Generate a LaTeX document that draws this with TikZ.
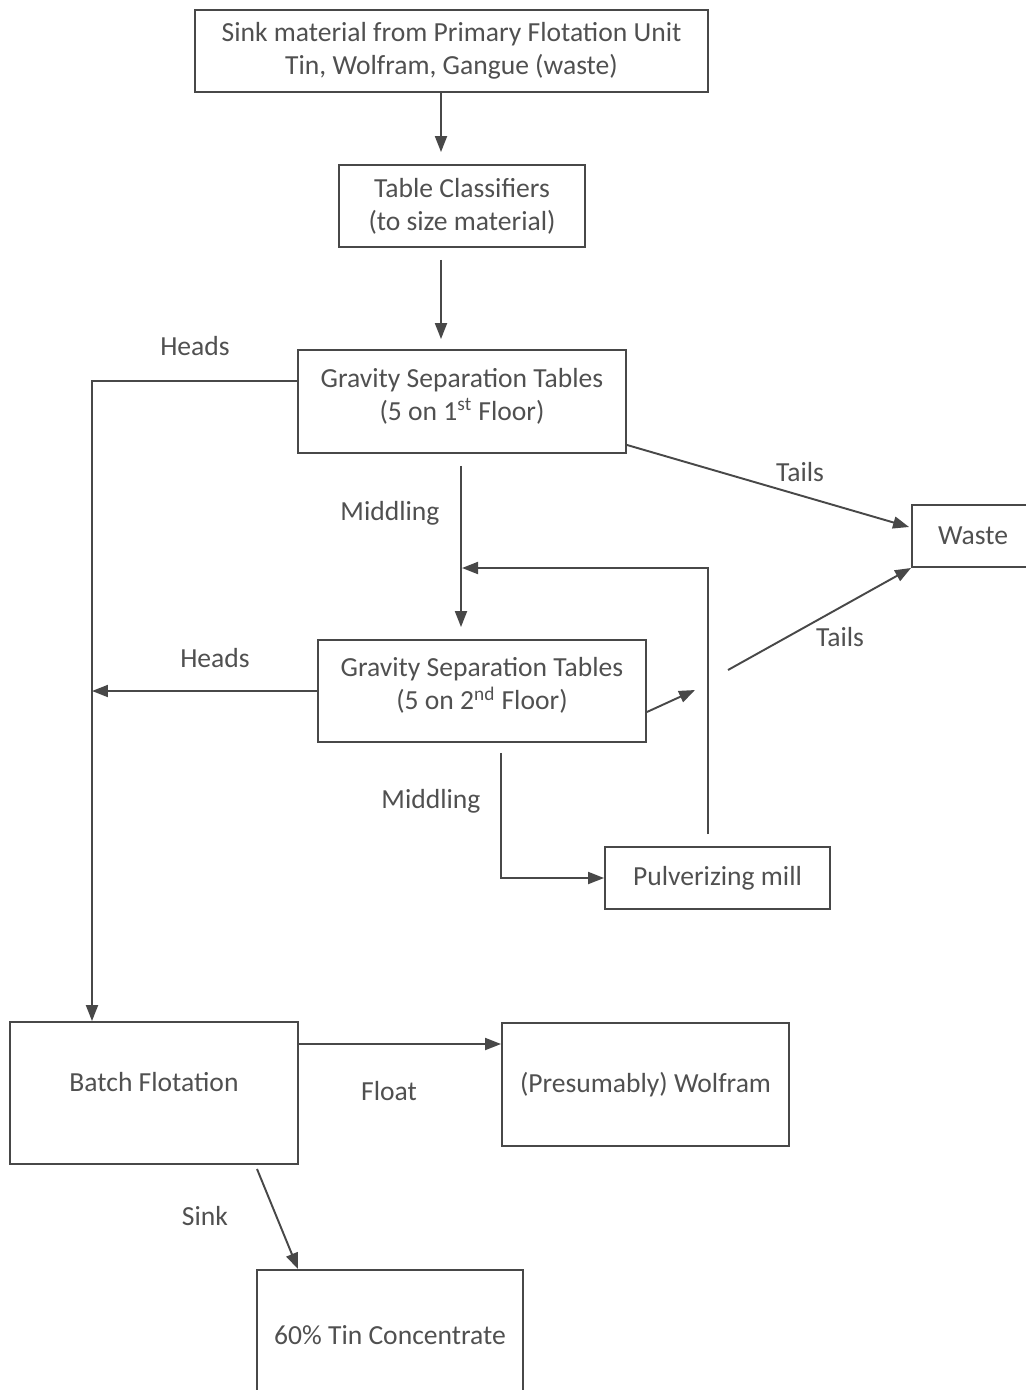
\documentclass[tikz,border=0pt]{standalone}
\usepackage{fontspec}
\setmainfont{Carlito}
\usepackage{tikz}
\usetikzlibrary{arrows.meta,calc}
\definecolor{linegray}{RGB}{72,72,72}
\definecolor{textgray}{RGB}{80,80,80}

\begin{document}
\begin{tikzpicture}[
    x=0.02cm, y=-0.02cm,
    font=\fontsize{15.7}{18.8}\selectfont,
    box/.style={rectangle, draw=linegray, line width=1.1pt, text=textgray, align=center, inner sep=0pt},
    lbl/.style={text=textgray},
    arrow/.style={-{Triangle[length=0.32cm,width=0.24cm]}, line width=1.1pt, linegray}
]
\useasboundingbox (0,0) rectangle (1026,1390);
\clip (0,0) rectangle (1026,1390);

% Feed and classifying
\node[box, minimum width=10.26cm, minimum height=1.64cm] (src) at (451.5,51) {Sink material from Primary Flotation Unit\\Tin, Wolfram, Gangue (waste)};
\node[box, minimum width=4.92cm, minimum height=1.64cm] (cls) at (462,206) {Table Classifiers\\(to size material)};

% Gravity tables
\node[box, minimum width=6.56cm, minimum height=2.06cm, text depth=0.3cm] (gst1) at (462,401.5) {Gravity Separation Tables\\(5 on 1\textsuperscript{st} Floor)};
\node[box, minimum width=6.56cm, minimum height=2.04cm, text depth=0.3cm] (gst2) at (482,691) {Gravity Separation Tables\\(5 on 2\textsuperscript{nd} Floor)};
\node[box, minimum width=2.44cm, minimum height=1.24cm] (waste) at (973,536) {Waste};
\node[box, minimum width=4.5cm, minimum height=1.24cm] (mill) at (717.5,878) {Pulverizing mill};

% Flotation and products
\node[box, minimum width=5.76cm, minimum height=2.84cm, text depth=0.45cm] (batch) at (154,1093) {Batch Flotation};
\node[box, minimum width=5.74cm, minimum height=2.46cm] (wolf) at (645.5,1084.5) {(Presumably) Wolfram};
\node[box, minimum width=5.32cm, minimum height=2.6cm] (tin) at (390,1335) {60\% Tin Concentrate};

% Helper points
\coordinate (hline) at (92,381);
\coordinate (join) at (462,568);
\coordinate (t2a) at (695,690);
\coordinate (t2b) at (728,670);
\coordinate (fl) at ($(batch.east)+(0,-49)$);

% Arrows
\draw[arrow] ($(src.south)+(-10.5,0)$) -- ($(cls.north)+(-21,-12)$);
\draw[arrow] ($(cls.south)+(-21,12)$) -- ($(gst1.north)+(-21,-10)$);
\draw[arrow] ($(gst1.west)+(0,-20.5)$) -| ($(batch.north)+(-62,0)$);
\draw[arrow] ($(gst1.south east)+(0,-9)$) -- ($(waste.west)+(-2,-9)$);
\draw[arrow] ($(gst1.south)+(-1,12)$) -- ($(gst2.north)+(-21,-12)$);
\draw[arrow] ($(mill.north)+(-9.5,-12)$) |- (join);
\draw[arrow] (gst2.west) -- (gst2.west -| hline);
\draw[arrow] ($(gst2.east)+(0,21)$) -- (t2a);
\draw[arrow] (t2b) -- (waste.south west);
\draw[arrow] ($(gst2.south)+(19,10)$) |- (mill.west);
\draw[arrow] (fl) -- (fl -| wolf.west);
\draw[arrow] ($(batch.south)+(103,4)$) -- ($(tin.north)+(-92,0)$);

% Labels
\node[lbl] (heads1) at (195,346) {Heads};
\node[lbl] (tails1) at (800,472) {Tails};
\node[lbl] (mid1) at (390,513) {Middling};
\node[lbl] (heads2) at (215,658) {Heads};
\node[lbl] (tails2) at (840,637) {Tails};
\node[lbl] (mid2) at (431,801) {Middling};
\node[lbl] (float) at (389,1091) {Float};
\node[lbl] (sink) at (205,1216) {Sink};

\end{tikzpicture}
\end{document}
